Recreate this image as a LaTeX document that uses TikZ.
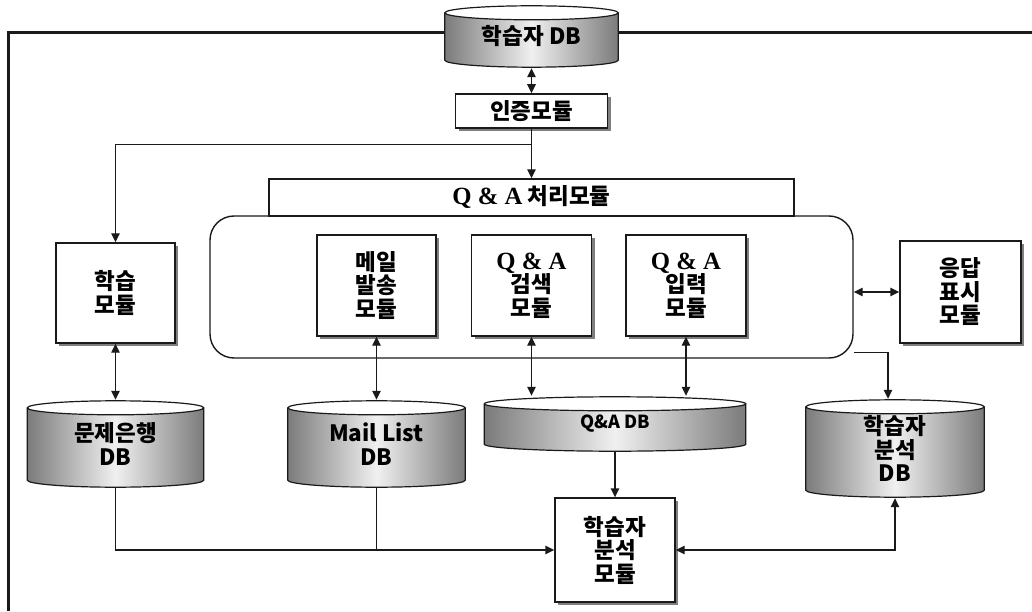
\documentclass[tikz,border=0pt]{standalone}
\usepackage{fontspec}
\setmainfont{Noto Sans CJK KR}
\newfontfamily\qaserif{Liberation Serif}[Scale=1.1]
\usetikzlibrary{positioning,arrows.meta,calc,shadows}
\definecolor{ink}{HTML}{1A1A1A}
\definecolor{cylgray}{HTML}{7A7A7A}
\definecolor{cyllight}{HTML}{F0F0F0}
\definecolor{shadowgray}{HTML}{7F7F7F}
\newcommand{\qamark}{{\qaserif Q \& A}}
\tikzset{
  font=\bfseries\fontsize{22.5}{23.5}\selectfont,
  >={Triangle[length=9pt,width=8.5pt]},
  %% nodes
  box/.style     = {draw=ink, line width=1.4pt, fill=white, inner sep=0pt,
                    align=center,
                    drop shadow={shadow xshift=3pt, shadow yshift=-3pt,
                                 fill=shadowgray, opacity=1}},
  plain/.style   = {draw=ink, line width=1.4pt, fill=white, inner sep=0pt,
                    align=center},
  dbcyl/.style   = {rectangle, inner sep=0pt, align=center,
    path picture={
      \shade[left color=cylgray, right color=cylgray, middle color=cyllight]
        let \p1=(path picture bounding box.south west),
            \p2=(path picture bounding box.north east),
            \n1={(\x2-\x1)/2-0.8pt} in
        (\x1+0.8pt,\y2-7.8pt) -- (\x1+0.8pt,\y1+7.8pt)
        arc[start angle=180, end angle=360, x radius=\n1, y radius=7pt]
        -- (\x2-0.8pt,\y2-7.8pt) -- cycle;
      \draw[ink, line width=1.2pt]
        let \p1=(path picture bounding box.south west),
            \p2=(path picture bounding box.north east),
            \n1={(\x2-\x1)/2-0.8pt} in
        (\x1+0.8pt,\y2-7.8pt) -- (\x1+0.8pt,\y1+7.8pt)
        arc[start angle=180, end angle=360, x radius=\n1, y radius=7pt]
        -- (\x2-0.8pt,\y2-7.8pt);
      \filldraw[ink, fill=white, line width=1.2pt]
        let \p1=(path picture bounding box.south west),
            \p2=(path picture bounding box.north east),
            \n1={(\x2-\x1)/2-0.8pt}, \n2={(\x1+\x2)/2} in
        (\n2,\y2-7.8pt) ellipse[x radius=\n1, y radius=7pt];
    }},
  %% arrows
  flow/.style    = {->, draw=ink, line width=1.4pt},
  flowboth/.style= {<->, draw=ink, line width=1.4pt},
  link/.style    = {-, draw=ink, line width=1.4pt},
  frame/.style   = {-, draw=ink, line width=3pt},
}
\begin{document}
\begin{tikzpicture}[x=1pt, y=1pt,
  small/.style = {font=\bfseries\fontsize{18}{20}\selectfont},
]
\useasboundingbox (0,0) rectangle (1032,611);

%% outer frame
\coordinate (framebl) at (8,0);
\coordinate (frametr) at (1032,578);
\draw[frame] (framebl) |- (frametr);

%% top: learner db and login
\node[dbcyl, minimum width=175, minimum height=63] (userdb) at (531.5,574.5) {학습자 DB};
\node[box, minimum width=152, minimum height=34, below=25 of userdb] (auth) {인증모듈};

%% ---- Q&A processing ----
\node[draw=ink, line width=1.4pt, rounded corners=24pt, fill=white,
      minimum width=643, minimum height=142] (qaproc) at (531.5,324) {};
\node[plain, minimum width=525, minimum height=37] (qahead) at (531.5,413.5) {\qamark\ 처리모듈};
\node[box, minimum width=119, minimum height=101] (mail)   at (376.5,325.5) {메일\\발송\\모듈};
\node[box, minimum width=120, minimum height=101] (search) at (531.5,325.5) {\qamark\\검색\\모듈};
\node[box, minimum width=120, minimum height=101] (input)  at (686,325.5) {\qamark\\입력\\모듈};

%% side modules
\node[box, minimum width=119, minimum height=100] (study) at (115.5,318) {학습\\모듈};
\node[box, minimum width=121, minimum height=102] (reply) at (960.5,319) {응답\\표시\\모듈};

%% databases
\node[dbcyl, minimum width=178, minimum height=88] (bankdb) at (115.5,167) {문제은행\\DB};
\node[dbcyl, minimum width=179, minimum height=88] (maildb) at (376.5,167) {Mail List\\DB};
\node[dbcyl, small, minimum width=263, minimum height=56] (qadb) at (615,187) {Q\&A DB};
\node[dbcyl, minimum width=180, minimum height=99] (anadb) at (895,162.5) {학습자\\분석\\DB};

%% analysis module
\node[box, minimum width=120, minimum height=104] (anamod) at (615,61) {학습자\\분석\\모듈};

%% edges
\draw[flowboth] (userdb) -- (auth);
\draw[flow] (auth) -- (qahead);
\coordinate (split) at ($(auth.south)+(0,-16)$);
\draw[flow] (split) -| (study.north);
\draw[flowboth] (study) -- (bankdb);
\draw[flowboth] (mail) -- (maildb);
\draw[flowboth] (search.south) -- (search.south |- qadb.north);
\draw[flowboth] (input.south) -- (input.south |- qadb.north);
\draw[flowboth] (qaproc.east |- reply.west) -- (reply.west);
\draw[flow] ([yshift=6pt]qaproc.south east) -| ([xshift=-7pt]anadb.north);
\draw[flow] (qadb) -- (anamod);
\draw[flow] (bankdb.south) |- (anamod.west);
\draw[link] (maildb.south) -- (maildb.south |- anamod.west);
\draw[flowboth] (anamod.east) -| (anadb.south);

\end{tikzpicture}
\end{document}
